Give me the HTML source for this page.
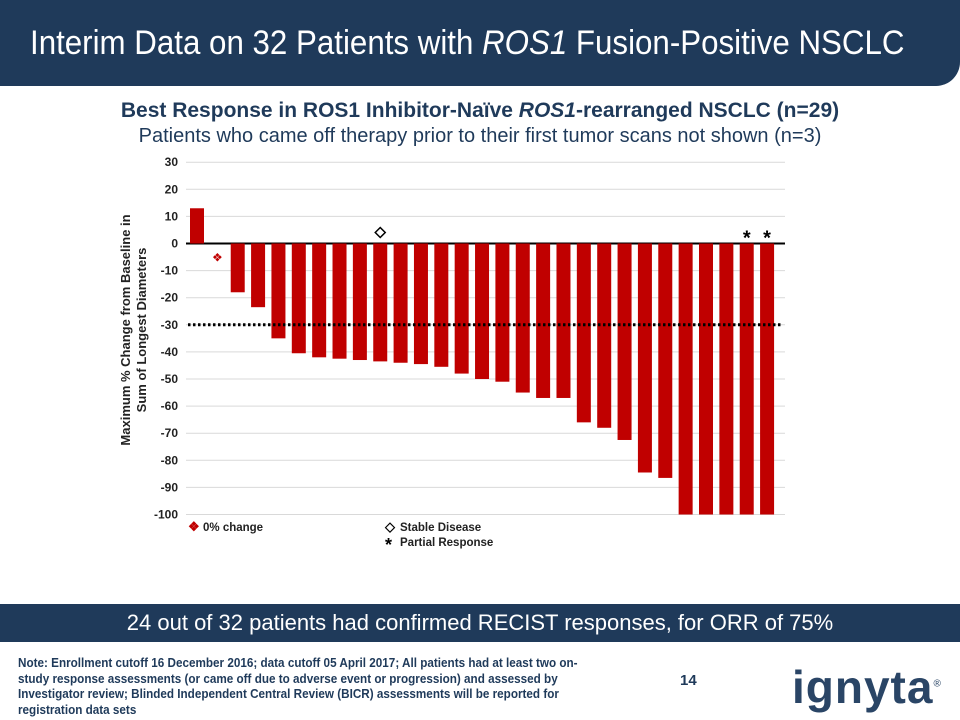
<!DOCTYPE html>
<html><head><meta charset="utf-8"><style>
body{margin:0;width:960px;height:720px;position:relative;background:#fff;font-family:"Liberation Sans",sans-serif;overflow:hidden}
.hdr{position:absolute;left:0;top:0;width:960px;height:86px;background:#1f3a5a;border-bottom-right-radius:24px}
.hdr div{position:absolute;left:30px;top:24px;color:#fff;font-size:34px;white-space:nowrap;transform:scaleX(0.92);transform-origin:left top}
.sub{position:absolute;left:0;width:960px;text-align:center;color:#1f3a5a}
.band{position:absolute;left:0;top:604px;width:960px;height:38px;background:#1f3a5a;color:#fff;text-align:center;font-size:22px;line-height:38px}
.note{position:absolute;left:18px;top:655px;width:640px;font-size:13px;font-weight:bold;color:#1f3a5a;line-height:15.5px;transform:scaleX(0.9);transform-origin:left top}
</style></head><body>
<div class="hdr"><div>Interim Data on 32 Patients with <i>ROS1</i> Fusion-Positive NSCLC</div></div>
<div class="sub" style="top:99px;font-size:21px;font-weight:bold">Best Response in ROS1 Inhibitor-Naïve <i>ROS1</i>-rearranged NSCLC (n=29)</div>
<div class="sub" style="top:125px;font-size:20px">Patients who came off therapy prior to their first tumor scans not shown (n=3)</div>
<svg id="chart" width="960" height="720" style="position:absolute;left:0;top:0"></svg>
<div class="band">24 out of 32 patients had confirmed RECIST responses, for ORR of 75%</div>
<div class="note">Note: Enrollment cutoff 16 December 2016; data cutoff 05 April 2017; All patients had at least two on-study response assessments (or came off due to adverse event or progression) and assessed by Investigator review; Blinded Independent Central Review (BICR) assessments will be reported for registration data sets</div>
<div style="position:absolute;left:680px;top:672px;font-size:15px;font-weight:bold;color:#1f3a5a">14</div>
<div style="position:absolute;left:792px;top:660px;font-size:46px;font-weight:bold;color:#2a4566;letter-spacing:1px">ignyta<sup style="font-size:10px;font-weight:normal">®</sup></div>
<script>
const values=[13,0,-18,-23.5,-35,-40.5,-42,-42.5,-43,-43.5,-44,-44.5,-45.5,-48,-50,-51,-55,-57,-57,-66,-68,-72.5,-84.5,-86.5,-100,-100,-100,-100,-100];
const stableIdx=[9];
const partialIdx=[27,28];
const zeroIdx=[1];
const ticks=[30,20,10,0,-10,-20,-30,-40,-50,-60,-70,-80,-90,-100];
const threshold=-30;
const NS="http://www.w3.org/2000/svg";
const svg=document.getElementById('chart');
const y=v=>243.5-(v*2.71);
const x=i=>197+i*20.36;
function mk(t,a,txt){const e=document.createElementNS(NS,t);for(const k in a)e.setAttribute(k,a[k]);if(txt!==undefined)e.textContent=txt;svg.appendChild(e);return e;}
ticks.forEach(t=>{
 const g=mk('line',{x1:186,x2:785,y1:y(t),y2:y(t),stroke:t===0?'#000':'#d9d9d9','stroke-width':t===0?2:1});
 
 
 const l=mk('text',{x:178,y:y(t)+4,'text-anchor':'end','font-size':12,'font-weight':'bold',fill:'#222'},t);
 
 
});
values.forEach((v,i)=>{
 if(v===0)return;
 const r=mk('rect',{x:x(i)-7,y:Math.min(y(v),y(0)),width:14,height:Math.abs(y(v)-y(0)),fill:'#c00000'});
 
 
});
const d=mk('line',{x1:188,x2:782,y1:y(threshold),y2:y(threshold),stroke:'#000','stroke-width':3,'stroke-dasharray':'2.5 2.5'});


zeroIdx.forEach(i=>{const m=mk('text',{x:x(i),y:y(0)+18,'text-anchor':'middle','font-size':12,fill:'#c00000'},'❖');
 
 });
stableIdx.forEach(i=>{const m=mk('path',{d:`M${x(i)} ${y(values[i]>0?values[i]:0)-16} l5 5 l-5 5 l-5 -5z`,fill:'#fff',stroke:'#000','stroke-width':1.5});
 
 });
partialIdx.forEach(i=>{const m=mk('text',{x:x(i),y:y(0)+1,'text-anchor':'middle','font-size':20,'font-weight':'bold',fill:'#000'},'*');
 
 });
const yt=mk('text',{transform:'translate(130,330) rotate(-90)','text-anchor':'middle','font-size':13,'font-weight':'bold',fill:'#222'});


const t1=document.createElementNS(NS,'tspan');t1.setAttribute('x',0);t1.setAttribute('y',0);t1.textContent='Maximum % Change from Baseline in';yt.appendChild(t1);
const t2=document.createElementNS(NS,'tspan');t2.setAttribute('x',0);t2.setAttribute('y',16);t2.textContent='Sum of Longest Diameters';yt.appendChild(t2);
const legend=[['❖','#c00000',188,531,'0% change'],['◇','#000',385,531,'Stable Disease'],['*','#000',385,546,'Partial Response']];
legend.forEach(l=>{const s=mk('text',{x:l[2],y:l[3]+(l[0]==='*'?5:0),'font-size':l[0]==='*'?18:13,'font-weight':'bold',fill:l[1]},l[0]);
 
 
 const t=mk('text',{x:l[2]+15,y:l[3],'font-size':11.5,'font-weight':'bold',fill:'#222'},l[4]);
 
 });
</script>
</body></html>
